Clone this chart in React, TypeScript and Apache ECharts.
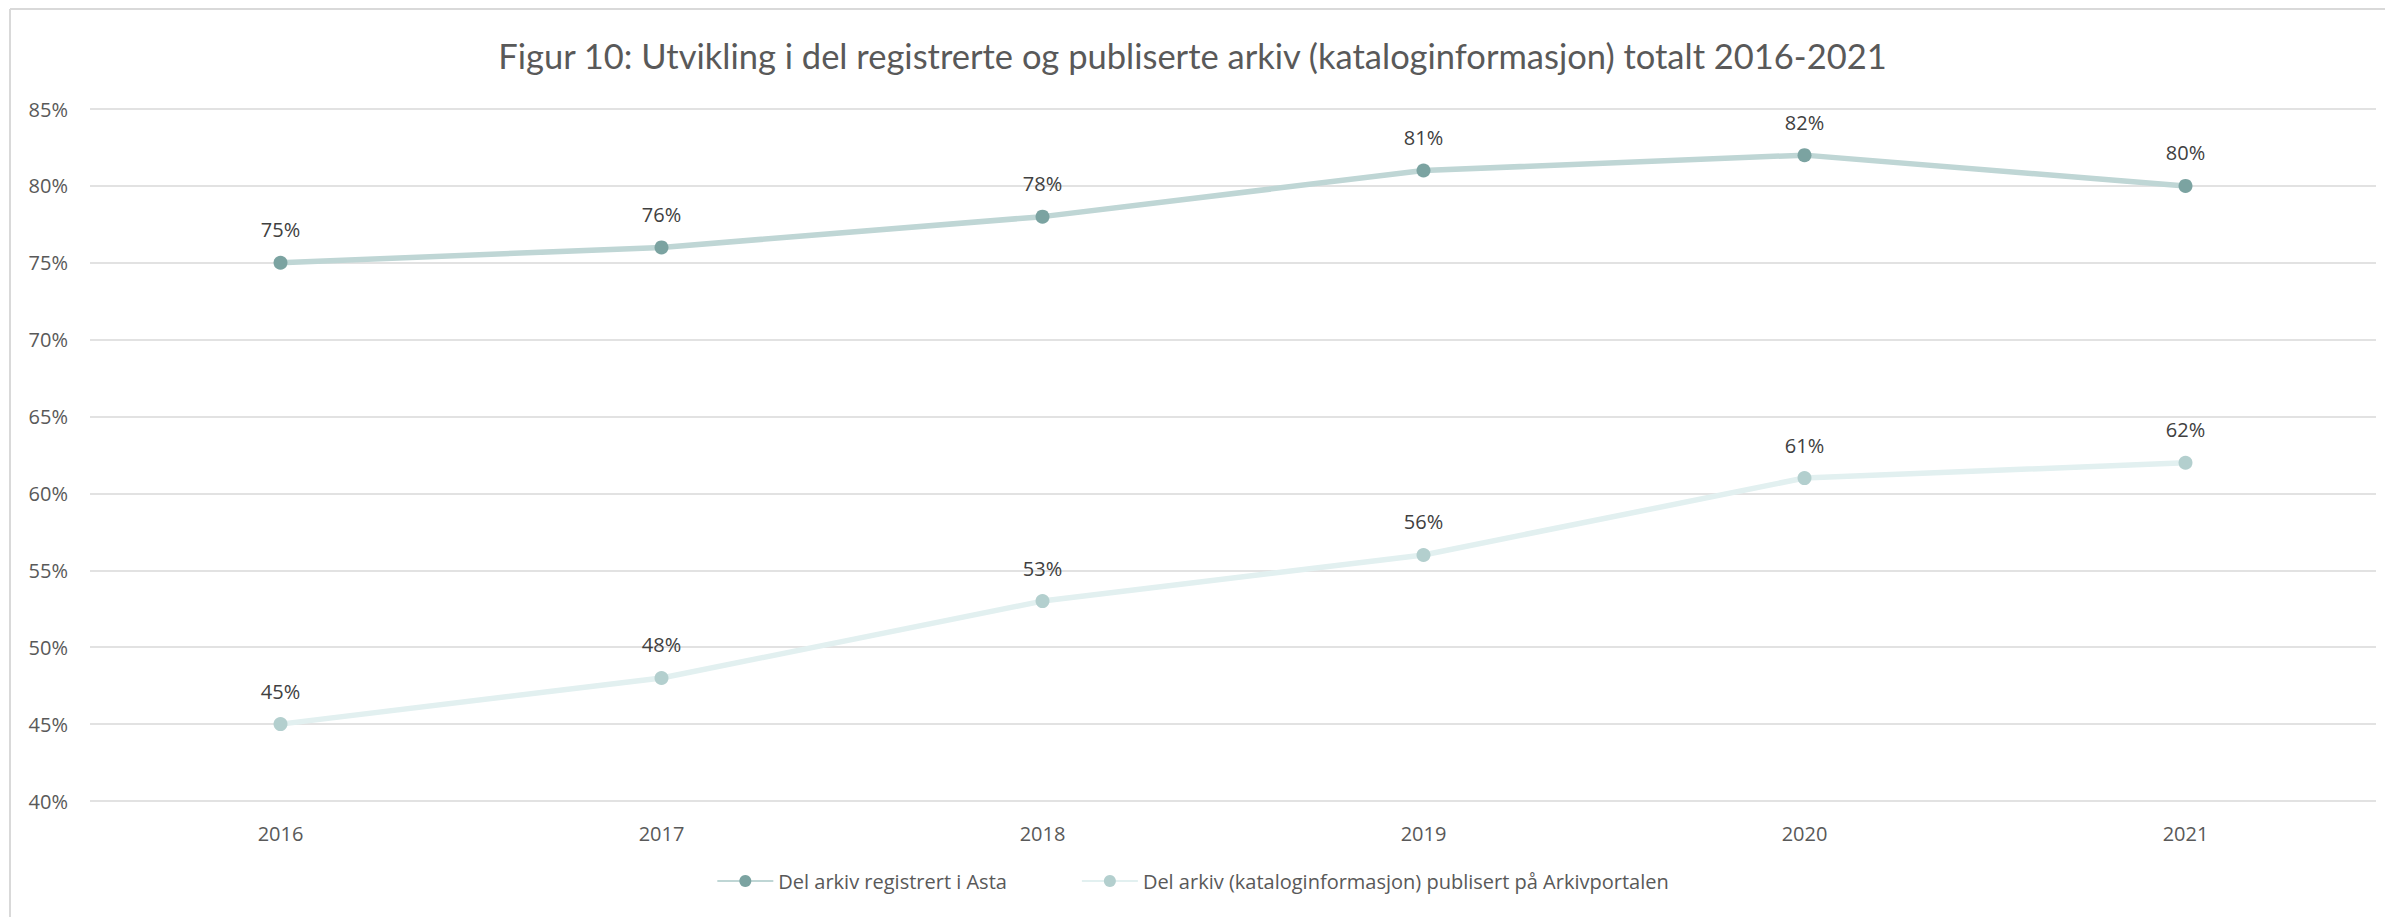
import React, { useEffect, useRef } from "react";
import * as echarts from "echarts";

const titleText = "Figur 10: Utvikling i del registrerte og publiserte arkiv (kataloginformasjon) totalt 2016-2021";
const years = ["2016", "2017", "2018", "2019", "2020", "2021"];
const seriesNames = ["Del arkiv registrert i Asta", "Del arkiv (kataloginformasjon) publisert på Arkivportalen"];
const registrert = [75, 76, 78, 81, 82, 80];
const publisert = [45, 48, 53, 56, 61, 62];
const yMin = 40;
const yMax = 85;
const yStep = 5;

export default function App() {
  const ref = useRef<HTMLDivElement>(null);
  useEffect(() => {
    if (!ref.current) return;
    const chart = echarts.init(ref.current, null, { renderer: "svg" });
    const font = "'Open Sans', sans-serif";
    chart.setOption({
      animation: false,
      backgroundColor: "#ffffff",
      title: {
        text: titleText,
        left: "center",
        top: 33,
        textStyle: { fontFamily: "Lato, sans-serif", fontSize: 34.5, fontWeight: "normal", color: "#595959" },
      },
      graphic: [
        { type: "line", shape: { x1: 10, y1: 9, x2: 2385, y2: 9 }, style: { stroke: "#D9D9D9", lineWidth: 2 } },
        { type: "line", shape: { x1: 10, y1: 9, x2: 10, y2: 917 }, style: { stroke: "#D9D9D9", lineWidth: 2 } },
      ],
      grid: { left: 90, right: 9, top: 109, bottom: 116, containLabel: false },
      legend: {
        bottom: 21,
        left: "center",
        itemWidth: 56,
        itemHeight: 15,
        itemGap: 74,
        textStyle: { fontFamily: font, fontSize: 20, color: "#595959" },
        data: seriesNames,
      },
      xAxis: {
        type: "category",
        data: years,
        boundaryGap: true,
        axisLine: { show: false },
        axisTick: { show: false },
        axisLabel: { fontFamily: font, fontSize: 20, color: "#595959", margin: 22 },
      },
      yAxis: {
        type: "value",
        min: yMin,
        max: yMax,
        interval: yStep,
        axisLine: { show: false },
        axisTick: { show: false },
        splitLine: { lineStyle: { color: "#D9D9D9", width: 1.5 } },
        axisLabel: { fontFamily: font, fontSize: 20, color: "#595959", margin: 22, formatter: (v: number) => v + "%" },
      },
      series: [
        {
          name: seriesNames[0],
          type: "line",
          data: registrert,
          symbol: "circle",
          symbolSize: 14,
          lineStyle: { color: "#BFD6D5", width: 5.5 },
          itemStyle: { color: "#7BA3A1" },
          label: { show: true, position: "top", distance: 16, fontFamily: font, fontSize: 20, color: "#404040", formatter: (p: any) => p.value + "%" },
        },
        {
          name: seriesNames[1],
          type: "line",
          data: publisert,
          symbol: "circle",
          symbolSize: 14,
          lineStyle: { color: "#E2F0F0", width: 5.5 },
          itemStyle: { color: "#B3CFCE" },
          label: { show: true, position: "top", distance: 16, fontFamily: font, fontSize: 20, color: "#404040", formatter: (p: any) => p.value + "%" },
        },
      ],
    });
    return () => chart.dispose();
  }, []);
  return <div ref={ref} style={{ position: "absolute", left: 0, top: 0, width: 2385, height: 917 }} />;
}
